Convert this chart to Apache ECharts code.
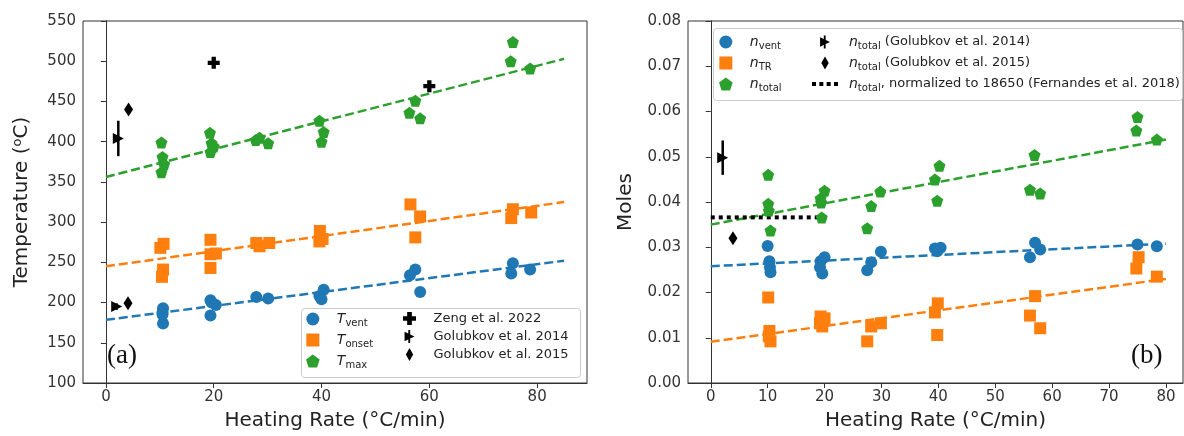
<!DOCTYPE html>
<html>
<head>
<meta charset="utf-8">
<script src="https://cdn.jsdelivr.net/npm/echarts@6/dist/echarts.min.js"></script>
<style>
html, body { margin: 0; padding: 0; background: #fff; }
#main { width: 1184px; height: 436px; }
</style>
</head>
<body>
<div id="main"></div>
<script>
// (a) 温度 - 加热速率
var tVentX = [10.6, 10.5, 10.5, 10.6, 19.4, 20.4, 19.4, 19.6, 27.9, 30.1, 40.4, 39.6, 40.0, 57.4, 56.4, 58.3, 75.5, 75.2, 78.7];
var tVentY = [193, 188, 185, 174, 203, 197, 184, 200, 207, 205, 216, 208, 204, 241, 234, 213, 249, 236, 241];

var tOnsetX = [10.7, 10.1, 10.6, 10.4, 19.4, 19.4, 20.4, 19.4, 27.9, 28.5, 30.3, 39.7, 40.2, 39.6, 56.5, 58.3, 57.4, 75.5, 75.2, 78.9];
var tOnsetY = [273, 268, 241, 232, 278, 260, 261, 243, 274, 270, 274, 289, 279, 276, 322, 307, 281, 316, 305, 312];

var tMaxX = [10.3, 10.5, 10.8, 10.3, 19.3, 19.6, 20.0, 19.4, 27.8, 28.5, 30.1, 39.6, 40.4, 40.0, 57.4, 56.3, 58.3, 75.5, 75.1, 78.7];
var tMaxY = [399, 381, 372, 362, 411, 398, 394, 387, 402, 405, 398, 426, 412, 400, 451, 436, 429, 524, 500, 491];

// 拟合线端点
var fitAX = [0, 85];
var tVentFit = [178.5, 252];
var tOnsetFit = [245, 325];
var tMaxFit = [356, 503];

// 文献值
var zengX = [20, 60];
var zengY = [498, 469];
var golub14X = [2.3, 2.0];
var golub14Y = [404, 195];
var golub14Err = [22, 4];
var golub15X = [4.2, 4.1];
var golub15Y = [440, 199];

// (b) 摩尔数 - 加热速率
var nVentX = [10.0, 10.3, 10.4, 10.5, 20.0, 19.3, 19.2, 19.6, 29.9, 28.2, 27.5, 39.4, 40.4, 39.8, 57.0, 57.9, 56.1, 75.0, 78.4];
var nVentY = [0.0303, 0.0269, 0.0256, 0.0245, 0.0278, 0.0269, 0.0256, 0.0242, 0.0290, 0.0267, 0.0249, 0.0297, 0.0299, 0.0291, 0.0310, 0.0295, 0.0278, 0.0306, 0.0302];

var nTRX = [10.1, 10.3, 10.2, 10.5, 19.3, 20.0, 19.2, 19.6, 27.5, 28.2, 29.9, 39.9, 39.4, 39.8, 57.0, 56.1, 57.9, 75.2, 74.8, 78.4];
var nTRY = [0.0189, 0.0115, 0.0103, 0.0092, 0.0147, 0.0143, 0.0132, 0.0125, 0.0092, 0.0125, 0.0132, 0.0176, 0.0156, 0.0106, 0.0192, 0.0149, 0.0121, 0.0278, 0.0253, 0.0235];

var nTotalX = [10.1, 10.1, 10.2, 10.5, 20.0, 19.3, 19.4, 19.5, 29.8, 28.2, 27.5, 40.2, 39.4, 39.8, 56.9, 56.1, 57.9, 75.0, 74.8, 78.4];
var nTotalY = [0.0460, 0.0396, 0.0381, 0.0337, 0.0425, 0.0408, 0.0399, 0.0366, 0.0423, 0.0391, 0.0342, 0.0480, 0.0450, 0.0403, 0.0504, 0.0427, 0.0419, 0.0588, 0.0558, 0.0538];

var fitBX = [0, 80];
var nVentFit = [0.0258, 0.0308];
var nTRFit = [0.0091, 0.0230];
var nTotalFit = [0.0350, 0.0538];

var nGolub14X = [2.1];
var nGolub14Y = [0.0498];
var nGolub14Err = [0.0038];
var nGolub15X = [3.9];
var nGolub15Y = [0.0320];
var fernandesX = [0, 21];
var fernandesY = [0.0366, 0.0366];

// 刻度
var ticksAX = [0, 20, 40, 60, 80];
var ticksBX = [0, 10, 20, 30, 40, 50, 60, 70, 80];

var blue = '#1f77b4', orange = '#ff7f0e', green = '#2ca02c';
var FONT = 'DejaVu Sans';

var pentagon = 'path://M0,-1L0.951,-0.309L0.588,0.809L-0.588,0.809L-0.951,-0.309Z';
var square = 'path://M-1,-1L1,-1L1,1L-1,1Z';
var plus = 'path://M-0.36,-1L0.36,-1L0.36,-0.36L1,-0.36L1,0.36L0.36,0.36L0.36,1L-0.36,1L-0.36,0.36L-1,0.36L-1,-0.36L-0.36,-0.36Z';
var triRight = 'path://M-0.9,-1L1,0L-0.9,1Z';
var triBar = 'path://M-0.9,-0.9L1,0L-0.9,0.9Z M-0.18,-1.25L0.18,-1.25L0.18,1.25L-0.18,1.25Z';
var thinDiamond = 'path://M0,-1.5L0.85,0L0,1.5L-0.85,0Z';
var dottedIcon = 'path://M0,0h4v4h-4Z M7.3,0h4v4h-4Z M14.6,0h4v4h-4Z M21.9,0h4v4h-4Z';

function pairs(xs, ys) {
    var d = [];
    for (var i = 0; i < xs.length; i++) {
        d.push([xs[i], ys[i]]);
    }
    return d;
}

function triples(xs, ys, es) {
    var d = [];
    for (var i = 0; i < xs.length; i++) {
        d.push([xs[i], ys[i], es[i]]);
    }
    return d;
}

function scatter(name, idx, data, symbol, size, color) {
    return {
        name: name, type: 'scatter', xAxisIndex: idx, yAxisIndex: idx,
        data: data, symbol: symbol, symbolSize: size, z: 5,
        itemStyle: { color: color, opacity: 1 }
    };
}

function fitLine(idx, xs, ys, color) {
    return {
        type: 'line', xAxisIndex: idx, yAxisIndex: idx, data: pairs(xs, ys),
        symbol: 'none', z: 3, silent: true,
        lineStyle: { color: color, width: 2.5, type: [9, 4] }
    };
}

function errorBars(idx, data) {
    return {
        type: 'custom', xAxisIndex: idx, yAxisIndex: idx, data: data, z: 4, silent: true,
        renderItem: function (params, api) {
            var x = api.value(0), y = api.value(1), e = api.value(2);
            var p1 = api.coord([x, y - e]);
            var p2 = api.coord([x, y + e]);
            return {
                type: 'line',
                shape: { x1: p1[0], y1: p1[1], x2: p2[0], y2: p2[1] },
                style: { stroke: '#000', lineWidth: 2.5 }
            };
        }
    };
}

// ip / tp 带左边距，拉开图标和文字
var legendRich = {
    ip: { fontFamily: FONT, fontSize: 14, fontStyle: 'italic', color: '#222', padding: [0, 0, 0, 6] },
    s: { fontFamily: FONT, fontSize: 10, color: '#222', padding: [8, 0, 0, 0] },
    t: { fontFamily: FONT, fontSize: 13, color: '#222' },
    tp: { fontFamily: FONT, fontSize: 13, color: '#222', padding: [0, 0, 0, 6] }
};

var labelText = {
    'Tvent': '{ip|T}{s|vent}',
    'Tonset': '{ip|T}{s|onset}',
    'Tmax': '{ip|T}{s|max}',
    'Zeng et al. 2022': '{tp|Zeng et al. 2022}',
    'Golubkov et al. 2014': '{tp|Golubkov et al. 2014}',
    'Golubkov et al. 2015': '{tp|Golubkov et al. 2015}',
    'nvent': '{ip|n}{s|vent}',
    'nTR': '{ip|n}{s|TR}',
    'ntotal': '{ip|n}{s|total}',
    'ntotal (Golubkov et al. 2014)': '{ip|n}{s|total}{t| (Golubkov et al. 2014)}',
    'ntotal (Golubkov et al. 2015)': '{ip|n}{s|total}{t| (Golubkov et al. 2015)}',
    'ntotal, normalized to 18650 (Fernandes et al. 2018)': '{ip|n}{s|total}{t|, normalized to 18650 (Fernandes et al. 2018)}'
};

// 图例的一列
function legendColumn(left, top, padding, items) {
    return {
        orient: 'vertical', left: left, top: top, z: 10,
        padding: padding, itemGap: 5, itemWidth: 26, itemHeight: 13,
        selectedMode: false,
        formatter: function (name) { return labelText[name]; },
        textStyle: { rich: legendRich },
        data: items
    };
}

function xAxis(idx, min, max, ticks) {
    return {
        type: 'value', gridIndex: idx, min: min, max: max,
        name: 'Heating Rate (°C/min)', nameLocation: 'middle', nameGap: 28,
        nameTextStyle: { fontFamily: FONT, fontSize: 20, color: '#222' },
        splitLine: { show: false },
        axisLine: { lineStyle: { color: '#333', width: 1 } },
        axisTick: { customValues: ticks, length: 5, lineStyle: { color: '#333' } },
        axisLabel: { customValues: ticks, fontFamily: FONT, fontSize: 15, color: '#333', margin: 7 }
    };
}

function draw() {
    var chart = echarts.init(document.getElementById('main'));
    var option = {
        backgroundColor: '#fff',
        animation: false,
        grid: [
            { left: 83, top: 21, width: 504, height: 363, show: true, borderColor: '#333', borderWidth: 1, backgroundColor: 'transparent' },
            { left: 688, top: 21, width: 495, height: 364, show: true, borderColor: '#333', borderWidth: 1, backgroundColor: 'transparent' }
        ],
        xAxis: [
            xAxis(0, -4.25, 89.25, ticksAX),
            xAxis(1, -4, 83, ticksBX)
        ],
        yAxis: [
            {
                type: 'value', gridIndex: 0, min: 100, max: 550, interval: 50,
                name: 'Temperature ({sup|o}C)', nameLocation: 'middle', nameGap: 50,
                nameTextStyle: {
                    fontFamily: FONT, fontSize: 20, color: '#222',
                    rich: { sup: { fontFamily: FONT, fontSize: 13, color: '#222', padding: [0, 0, 9, 0] } }
                },
                splitLine: { show: false },
                axisLine: { show: true, lineStyle: { color: '#333', width: 1 } },
                axisTick: { show: true, length: 5, lineStyle: { color: '#333' } },
                axisLabel: { fontFamily: FONT, fontSize: 15, color: '#333', margin: 7 }
            },
            {
                type: 'value', gridIndex: 1, min: 0, max: 0.08, interval: 0.01,
                name: 'Moles', nameLocation: 'middle', nameGap: 52,
                nameTextStyle: { fontFamily: FONT, fontSize: 20, color: '#222' },
                splitLine: { show: false },
                axisLine: { show: true, lineStyle: { color: '#333', width: 1 } },
                axisTick: { show: true, length: 5, lineStyle: { color: '#333' } },
                axisLabel: {
                    fontFamily: FONT, fontSize: 15, color: '#333', margin: 7,
                    formatter: function (v) { return v.toFixed(2); }
                }
            }
        ],
        legend: [
            legendColumn(301, 308, [4, 6, 7, 5], [
                { name: 'Tvent', icon: 'circle' },
                { name: 'Tonset', icon: square },
                { name: 'Tmax', icon: pentagon }
            ]),
            legendColumn(398, 308, [4, 6, 7, 5], [
                { name: 'Zeng et al. 2022', icon: plus },
                { name: 'Golubkov et al. 2014', icon: triBar },
                { name: 'Golubkov et al. 2015', icon: thinDiamond }
            ]),
            legendColumn(713, 28, [7, 6, 6, 6], [
                { name: 'nvent', icon: 'circle' },
                { name: 'nTR', icon: square },
                { name: 'ntotal', icon: pentagon }
            ]),
            legendColumn(806, 28, [7, 6, 6, 6], [
                { name: 'ntotal (Golubkov et al. 2014)', icon: triBar },
                { name: 'ntotal (Golubkov et al. 2015)', icon: thinDiamond },
                { name: 'ntotal, normalized to 18650 (Fernandes et al. 2018)', icon: dottedIcon }
            ])
        ],
        graphic: [
            // 图例边框
            { type: 'rect', z: 8, shape: { x: 301.5, y: 308.5, width: 279, height: 69, r: 3 }, style: { fill: 'rgba(255,255,255,0.85)', stroke: '#ccc', lineWidth: 1 } },
            { type: 'rect', z: 8, shape: { x: 713.5, y: 28.5, width: 469, height: 72, r: 3 }, style: { fill: 'rgba(255,255,255,0.85)', stroke: '#ccc', lineWidth: 1 } },
            { type: 'text', left: 107, top: 342, style: { text: '(a)', font: '27px "Liberation Serif"', fill: '#111' } },
            { type: 'text', left: 1131, top: 342, style: { text: '(b)', font: '27px "Liberation Serif"', fill: '#111' } }
        ],
        series: [
            fitLine(0, fitAX, tVentFit, blue),
            fitLine(0, fitAX, tOnsetFit, orange),
            fitLine(0, fitAX, tMaxFit, green),
            scatter('Tvent', 0, pairs(tVentX, tVentY), 'circle', 12, blue),
            scatter('Tonset', 0, pairs(tOnsetX, tOnsetY), 'rect', 12, orange),
            scatter('Tmax', 0, pairs(tMaxX, tMaxY), pentagon, 12, green),
            scatter('Zeng et al. 2022', 0, pairs(zengX, zengY), plus, 12, '#000'),
            errorBars(0, triples(golub14X, golub14Y, golub14Err)),
            scatter('Golubkov et al. 2014', 0, pairs(golub14X, golub14Y), triRight, 11, '#000'),
            scatter('Golubkov et al. 2015', 0, pairs(golub15X, golub15Y), 'diamond', [9, 14], '#000'),

            fitLine(1, fitBX, nVentFit, blue),
            fitLine(1, fitBX, nTRFit, orange),
            fitLine(1, fitBX, nTotalFit, green),
            scatter('nvent', 1, pairs(nVentX, nVentY), 'circle', 12, blue),
            scatter('nTR', 1, pairs(nTRX, nTRY), 'rect', 12, orange),
            scatter('ntotal', 1, pairs(nTotalX, nTotalY), pentagon, 12, green),
            errorBars(1, triples(nGolub14X, nGolub14Y, nGolub14Err)),
            scatter('ntotal (Golubkov et al. 2014)', 1, pairs(nGolub14X, nGolub14Y), triRight, 11, '#000'),
            scatter('ntotal (Golubkov et al. 2015)', 1, pairs(nGolub15X, nGolub15Y), 'diamond', [9, 14], '#000'),
            {
                name: 'ntotal, normalized to 18650 (Fernandes et al. 2018)',
                type: 'line', xAxisIndex: 1, yAxisIndex: 1, data: pairs(fernandesX, fernandesY),
                symbol: 'none', z: 3,
                itemStyle: { color: '#000' },
                lineStyle: { color: '#000', width: 4, type: [4, 4], cap: 'butt' }
            }
        ]
    };
    chart.setOption(option);
}

draw();
</script>
</body>
</html>
